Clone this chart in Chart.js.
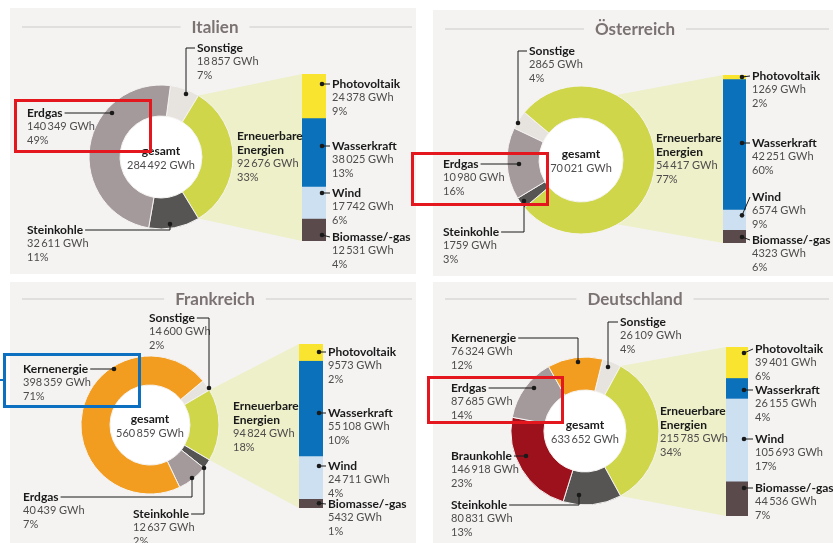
<!DOCTYPE html>
<html lang="de">
<head>
<meta charset="utf-8">
<title>Stromerzeugung nach Energieträgern</title>
<script src="https://cdn.jsdelivr.net/npm/chart.js@4.4.1/dist/chart.umd.min.js"></script>
<style>
  html, body { margin: 0; padding: 0; background: #fff; }
  #stage { position: relative; width: 833px; height: 543px; overflow: hidden; }
  .panel { position: absolute; background: #f4f3f2; }
  canvas.layer { position: absolute; left: 0; top: 0; }
  canvas.bar-layer { z-index: 1; }
  canvas.donut-layer { z-index: 2; }
  .mark { position: absolute; box-sizing: border-box; border: 3px solid #e5171e; z-index: 3; }
  .mark.blue { border-color: #0c6fbf; }
</style>
</head>
<body>
<div id="stage"></div>
<script>
// ---- data (GWh) ----
const countries = ['Italien', 'Österreich', 'Frankreich', 'Deutschland'];
const totals = [284492, 70021, 560859, 633652];

// doughnut slices, clockwise starting with "Sonstige"
const mixLabels = [
  ['Sonstige', 'Erneuerbare Energien', 'Steinkohle', 'Erdgas'],
  ['Sonstige', 'Erneuerbare Energien', 'Steinkohle', 'Erdgas'],
  ['Sonstige', 'Erneuerbare Energien', 'Steinkohle', 'Erdgas', 'Kernenergie'],
  ['Sonstige', 'Erneuerbare Energien', 'Steinkohle', 'Braunkohle', 'Erdgas', 'Kernenergie']
];
const mixGWh = [
  [18857, 92676, 32611, 140349],
  [2865, 54417, 1759, 10980],
  [14600, 94824, 12637, 40439, 398359],
  [26109, 215785, 80831, 146918, 87685, 76324]
];
const mixPct = [
  [7, 33, 11, 49],
  [4, 77, 3, 16],
  [2, 18, 2, 7, 71],
  [4, 34, 13, 23, 14, 12]
];

// breakdown of the renewables, top to bottom
const renewLabels = ['Photovoltaik', 'Wasserkraft', 'Wind', 'Biomasse/-gas'];
const renewGWh = [
  [24378, 38025, 17742, 12531],
  [1269, 42251, 6574, 4323],
  [9573, 55108, 24711, 5432],
  [39401, 26155, 105693, 44536]
];
const renewPct = [
  [9, 13, 6, 4],
  [2, 60, 9, 6],
  [2, 10, 4, 1],
  [6, 4, 17, 7]
];

// ---- styles ----
const sliceColors = {
  'Sonstige': '#e7e4df',
  'Erneuerbare Energien': '#d0d64a',
  'Steinkohle': '#565553',
  'Erdgas': '#a59a9b',
  'Kernenergie': '#f29c20',
  'Braunkohle': '#9d111d'
};
const renewColors = ['#f9e52f', '#0b71ba', '#cde0f1', '#5b4a4b'];
const WEDGE = '#edf0c9';
const INK = '#1a1a1a';
const GREY = '#4f4c4c';
const FONT_BOLD = 'bold 12px Lato, "Open Sans", sans-serif';
const FONT_REG = '11px Lato, "Open Sans", sans-serif';
const FONT_TITLE = 'bold 17px Lato, "Open Sans", sans-serif';
const LINE = 13.8;
const W = 833, H = 543;

// ---- layout (page pixels) ----
const layouts = [
  { // Italien
    panel: [10, 8, 406, 266], titleY: 28,
    center: [161, 157], outer: 72, inner: 41,
    bar: [302, 74, 24, 167], barTextX: 332, barTextY: [84, 146, 193, 237],
    labels: [
      { x: 197, y: 48, lead: [[186, 48], [186, 94]] },
      { x: 237, y: 136 },
      { x: 27, y: 230, lead: [[170, 230], [170, 224]] },
      { x: 27, y: 113, lead: [[112, 113]] }
    ]
  },
  { // Österreich
    panel: [433, 10, 400, 266], titleY: 30,
    center: [581, 160], outer: 74, inner: 42,
    bar: [723, 75, 23, 168], barTextX: 752, barTextY: [76, 143, 197, 240],
    labels: [
      { x: 529, y: 51, lead: [[518, 51], [518, 123]] },
      { x: 656, y: 138 },
      { x: 443, y: 232, lead: [[524, 232], [524, 201]] },
      { x: 443, y: 164, lead: [[519, 164]] }
    ]
  },
  { // Frankreich
    panel: [10, 282, 406, 261], titleY: 300,
    center: [150, 425], outer: 69, inner: 40,
    bar: [299, 344, 24, 164], barTextX: 328, barTextY: [352, 413, 466, 504],
    labels: [
      { x: 149, y: 318, lead: [[209, 318], [209, 388]] },
      { x: 233, y: 406 },
      { x: 133, y: 514, lead: [[204, 514], [204, 468]] },
      { x: 23, y: 497, lead: [[192, 497], [192, 478]] },
      { x: 23, y: 369, lead: [[114, 369]] }
    ]
  },
  { // Deutschland
    panel: [433, 282, 400, 261], titleY: 300,
    center: [585, 431], outer: 74, inner: 41,
    bar: [726, 347, 22, 169], barTextX: 755, barTextY: [349, 390, 439, 488],
    labels: [
      { x: 620, y: 322, lead: [[608, 322], [608, 367]] },
      { x: 660, y: 411 },
      { x: 451, y: 505, lead: [[579, 505], [579, 495]] },
      { x: 451, y: 456, lead: [[526, 456]] },
      { x: 451, y: 388, lead: [[534, 388]] },
      { x: 451, y: 338, lead: [[578, 338], [578, 362]] }
    ]
  }
];

// highlight boxes drawn over the chart
const marks = [
  { box: [14, 99, 138, 54], cls: '' },
  { box: [411, 152, 138, 54], cls: '' },
  { box: [3, 353, 138, 55], cls: 'blue' },
  { box: [427, 376, 137, 48], cls: '' }
];

function fmt(n) {
  const s = String(n);
  return n >= 10000 ? s.replace(/\B(?=(\d{3})+(?!\d))/g, '\u2009') : s;
}

function drawBlock(ctx, x, y, heads, rest, lead) {
  ctx.save();
  ctx.textAlign = 'left';
  ctx.textBaseline = 'middle';
  ctx.font = FONT_BOLD;
  ctx.fillStyle = INK;
  heads.forEach((t, k) => ctx.fillText(t, x, y + k * LINE));
  const w = ctx.measureText(heads[0]).width;
  ctx.font = FONT_REG;
  ctx.fillStyle = GREY;
  rest.forEach((t, k) => ctx.fillText(t, x, y + (heads.length + k) * LINE));
  if (lead) {
    const x0 = lead[0][0] > x ? x + w + 2 : x - 2;
    ctx.strokeStyle = INK;
    ctx.fillStyle = INK;
    ctx.lineWidth = 1;
    ctx.beginPath();
    ctx.moveTo(x0, y);
    lead.forEach(p => ctx.lineTo(p[0], p[1]));
    ctx.stroke();
    const d = lead[lead.length - 1];
    ctx.beginPath();
    ctx.arc(d[0], d[1], 2.3, 0, Math.PI * 2);
    ctx.fill();
  }
  ctx.restore();
}

function drawTitle(ctx, i) {
  const L = layouts[i];
  const [px, , pw] = L.panel;
  const cx = px + pw / 2 + 2;
  ctx.save();
  ctx.font = FONT_TITLE;
  ctx.fillStyle = '#7b7272';
  ctx.textAlign = 'center';
  ctx.textBaseline = 'middle';
  ctx.fillText(countries[i], cx, L.titleY);
  const tw = ctx.measureText(countries[i]).width;
  ctx.strokeStyle = '#cdcaca';
  ctx.lineWidth = 1.2;
  ctx.beginPath();
  ctx.moveTo(px + 12, L.titleY - 1);
  ctx.lineTo(cx - tw / 2 - 11, L.titleY - 1);
  ctx.moveTo(cx + tw / 2 + 11, L.titleY - 1);
  ctx.lineTo(px + pw - 4, L.titleY - 1);
  ctx.stroke();
  ctx.restore();
}

function donutDecor(i) {
  const L = layouts[i];
  return {
    id: 'donutDecor',
    beforeDatasetsDraw(chart) {
      const arc = chart.getDatasetMeta(0).data[0];
      const ctx = chart.ctx;
      ctx.save();
      ctx.fillStyle = '#fff';
      ctx.beginPath();
      ctx.arc(arc.x, arc.y, arc.innerRadius, 0, Math.PI * 2);
      ctx.fill();
      ctx.restore();
    },
    afterDraw(chart) {
      const ctx = chart.ctx;
      const arc = chart.getDatasetMeta(0).data[0];
      drawTitle(ctx, i);

      ctx.save();
      ctx.textAlign = 'center';
      ctx.textBaseline = 'middle';
      ctx.font = FONT_BOLD;
      ctx.fillStyle = INK;
      ctx.fillText('gesamt', arc.x, arc.y - 6);
      ctx.font = FONT_REG;
      ctx.fillStyle = GREY;
      ctx.fillText(fmt(totals[i]) + ' GWh', arc.x, arc.y + 8);
      ctx.restore();

      mixLabels[i].forEach((name, k) => {
        const pos = L.labels[k];
        const heads = name === 'Erneuerbare Energien' ? ['Erneuerbare', 'Energien'] : [name];
        drawBlock(ctx, pos.x, pos.y, heads,
          [fmt(mixGWh[i][k]) + ' GWh', mixPct[i][k] + '%'], pos.lead);
      });
    }
  };
}

function barDecor(i, donut) {
  const L = layouts[i];
  const ernIdx = mixLabels[i].indexOf('Erneuerbare Energien');
  return {
    id: 'barDecor',
    beforeDatasetsDraw(chart) {
      const arc = donut.getDatasetMeta(0).data[ernIdx];
      const { left, top, bottom } = chart.chartArea;
      const R = arc.outerRadius;
      const ctx = chart.ctx;
      ctx.save();
      ctx.fillStyle = WEDGE;
      ctx.beginPath();
      ctx.moveTo(arc.x + R * Math.cos(arc.startAngle), arc.y + R * Math.sin(arc.startAngle));
      ctx.lineTo(left, top);
      ctx.lineTo(left, bottom);
      ctx.lineTo(arc.x + R * Math.cos(arc.endAngle), arc.y + R * Math.sin(arc.endAngle));
      ctx.closePath();
      ctx.fill();
      ctx.restore();
    },
    afterDatasetsDraw(chart) {
      const ctx = chart.ctx;
      renewLabels.forEach((name, k) => {
        const bar = chart.getDatasetMeta(k).data[0];
        const segTop = Math.min(bar.y, bar.base);
        const segBot = Math.max(bar.y, bar.base);
        const ty = L.barTextY[k];
        const m = Math.min(6, (segBot - segTop) / 2);
        const dy = Math.min(Math.max(ty, segTop + m), segBot - m);
        const dx = bar.x + bar.width / 2 - 4;
        drawBlock(ctx, L.barTextX, ty, [name],
          [fmt(renewGWh[i][k]) + ' GWh', renewPct[i][k] + '%'], [[dx, dy]]);
      });
    }
  };
}

const stage = document.getElementById('stage');

function addCanvas(cls) {
  const c = document.createElement('canvas');
  c.width = W;
  c.height = H;
  c.className = 'layer ' + cls;
  stage.appendChild(c);
  return c;
}

const common = {
  responsive: false,
  animation: false,
  events: [],
  plugins: { legend: { display: false }, tooltip: { enabled: false } }
};

layouts.forEach((L) => {
  const [px, py, pw, ph] = L.panel;
  const panel = document.createElement('div');
  panel.className = 'panel';
  Object.assign(panel.style, { left: px + 'px', top: py + 'px', width: pw + 'px', height: ph + 'px' });
  stage.appendChild(panel);
});

layouts.forEach((L, i) => {
  const data = mixGWh[i];
  const sum = data.reduce((a, b) => a + b, 0);
  const ernIdx = mixLabels[i].indexOf('Erneuerbare Energien');
  const before = data.slice(0, ernIdx).reduce((a, b) => a + b, 0);
  const [cx, cy] = L.center;
  const half = L.outer + 0.5;

  const donut = new Chart(addCanvas('donut-layer'), {
    type: 'doughnut',
    data: {
      labels: mixLabels[i],
      datasets: [{
        data: data,
        backgroundColor: mixLabels[i].map(l => sliceColors[l]),
        borderColor: '#f4f3f2',
        borderWidth: 1
      }]
    },
    options: {
      ...common,
      rotation: 90 - 360 * (before + data[ernIdx] / 2) / sum,
      cutout: (L.inner / L.outer * 100) + '%',
      layout: { padding: { left: cx - half, top: cy - half, right: W - cx - half, bottom: H - cy - half } }
    },
    plugins: [donutDecor(i)]
  });

  const [bx, by, bw, bh] = L.bar;
  const renewSum = renewGWh[i].reduce((a, b) => a + b, 0);
  new Chart(addCanvas('bar-layer'), {
    type: 'bar',
    data: {
      labels: [countries[i]],
      datasets: renewLabels.map((name, k) => ({
        label: name,
        data: [renewGWh[i][k]],
        backgroundColor: renewColors[k],
        borderWidth: 0,
        barPercentage: 1,
        categoryPercentage: 1
      }))
    },
    options: {
      ...common,
      layout: { padding: { left: bx, top: by, right: W - bx - bw, bottom: H - by - bh } },
      scales: {
        x: { stacked: true, display: false },
        y: { stacked: true, display: false, min: 0, max: renewSum, reverse: true }
      }
    },
    plugins: [barDecor(i, donut)]
  });
});

marks.forEach(m => {
  const d = document.createElement('div');
  d.className = 'mark ' + m.cls;
  Object.assign(d.style, { left: m.box[0] + 'px', top: m.box[1] + 'px', width: m.box[2] + 'px', height: m.box[3] + 'px' });
  stage.appendChild(d);
});
// small pointer stub on the blue box
const stub = document.createElement('div');
Object.assign(stub.style, { position: 'absolute', left: '0px', top: '379px', width: '4px', height: '2px', background: '#0c6fbf', zIndex: 3 });
stage.appendChild(stub);
</script>
</body>
</html>
